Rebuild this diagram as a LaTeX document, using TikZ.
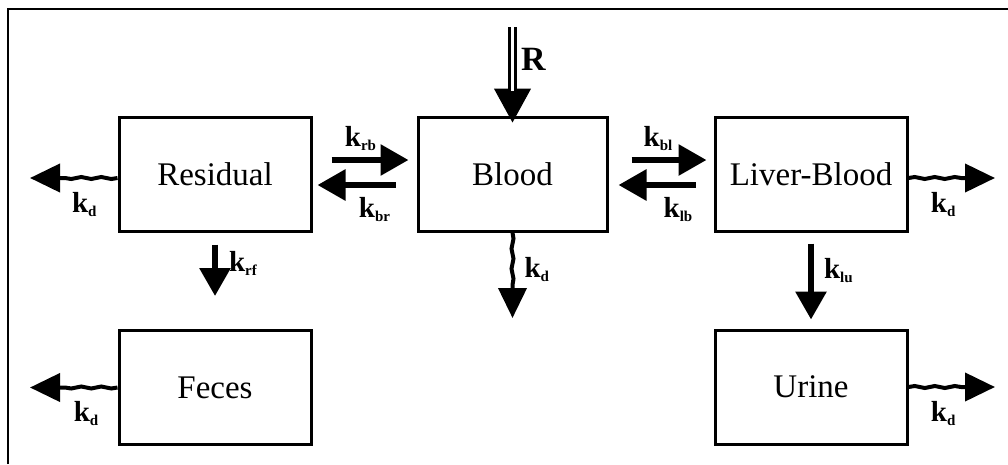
\documentclass[tikz,border=0pt]{standalone}
\usepackage{fontspec}
\setmainfont{Liberation Serif}
\usetikzlibrary{arrows.meta,decorations.pathmorphing}

\newcommand{\kcoef}[1]{\textbf{\fontsize{29}{32}\selectfont k\raisebox{-4pt}{\fontsize{15}{15}\selectfont #1}}}

\tikzset{
  comp/.style={draw, line width=3pt, minimum width=192pt, minimum height=114pt,
    inner sep=0pt, font=\fontsize{33}{40}\selectfont},
  rate/.style={line width=6pt, -{Triangle[length=28pt,width=30pt]}},
  loss/.style={line width=4pt, -{Triangle[length=30pt,width=28pt]}, decorate,
    decoration={snake, amplitude=1pt, segment length=20pt, post length=29pt}},
  klab/.style={inner sep=1pt},
}

\begin{document}
\begin{tikzpicture}[x=1pt,y=-1pt]
\useasboundingbox (0,0) rectangle (1008,464);
\draw[line width=2pt] (8,464) |- (1008,9);

% compartments
\node[comp] (res) at (215,174) {Residual};
\node[comp, minimum width=189pt] (blood) at (512.5,174) {Blood};
\node[comp] (liver) at (811,174) {Liver-Blood};
\node[comp] (fec) at (215,387.5) {Feces};
\node[comp] (uri) at (811,387) {Urine};

% input R
\coordinate (rin) at (512.5,27);
\draw[line width=1pt, -{Triangle[length=34pt,width=37pt]}]
  ([yshift=-60pt]rin) -- ([yshift=-7pt]blood.north);
\draw[double, double distance=3pt, line width=3pt] (rin) --
  node[pos=0.5, right=7pt, inner sep=0pt, font=\bfseries\fontsize{34}{40}\selectfont] (rlab) {R}
  ([yshift=-64pt]rin);

% exchange
\draw[rate, shorten <=19pt, shorten >=8pt] ([yshift=14pt]res.east) --
  node[klab, above=5pt, xshift=-4pt] (krb) {\kcoef{rb}} ([yshift=14pt]blood.west);
\draw[rate, shorten <=21pt, shorten >=5pt] ([yshift=-11pt]blood.west) --
  node[klab, below=8pt, xshift=10pt] (kbr) {\kcoef{br}} ([yshift=-11pt]res.east);
\draw[rate, shorten <=23pt, shorten >=7pt] ([yshift=14pt]blood.east) --
  node[klab, above=5pt, xshift=-3pt] (kbl) {\kcoef{bl}} ([yshift=14pt]liver.west);
\draw[rate, shorten <=18pt, shorten >=10pt] ([yshift=-11pt]liver.west) --
  node[klab, below=8pt, xshift=17pt] (klb) {\kcoef{lb}} ([yshift=-11pt]blood.east);

% excretion
\draw[rate, shorten <=12pt, shorten >=33pt] (res.south) --
  node[klab, pos=0.32, right=10pt] (krf) {\kcoef{rf}} (fec.north);
\draw[rate, shorten <=11pt, shorten >=9pt] (liver.south) --
  node[klab, pos=0.4, right=9pt] (klu) {\kcoef{lu}} (uri.north);

% decay
\coordinate (resout) at (30,178);
\coordinate (fecout) at (30,387.5);
\coordinate (livout) at (995,178);
\coordinate (uriout) at (995,387);
\coordinate (bloodout) at (512.5,318);
\draw[loss] ([yshift=-4pt]res.west) -- node[klab, pos=0.38, below=11pt] {\kcoef{d}} (resout);
\draw[loss] (fec.west) -- node[klab, pos=0.36, below=11pt] {\kcoef{d}} (fecout);
\draw[loss] ([yshift=-4pt]liver.east) -- node[klab, pos=0.4, below=11pt] {\kcoef{d}} (livout);
\draw[loss] (uri.east) -- node[klab, pos=0.4, below=11pt] {\kcoef{d}} (uriout);
\draw[loss] (blood.south) -- node[klab, pos=0.43, right=9pt] {\kcoef{d}} (bloodout);
\end{tikzpicture}
\end{document}
